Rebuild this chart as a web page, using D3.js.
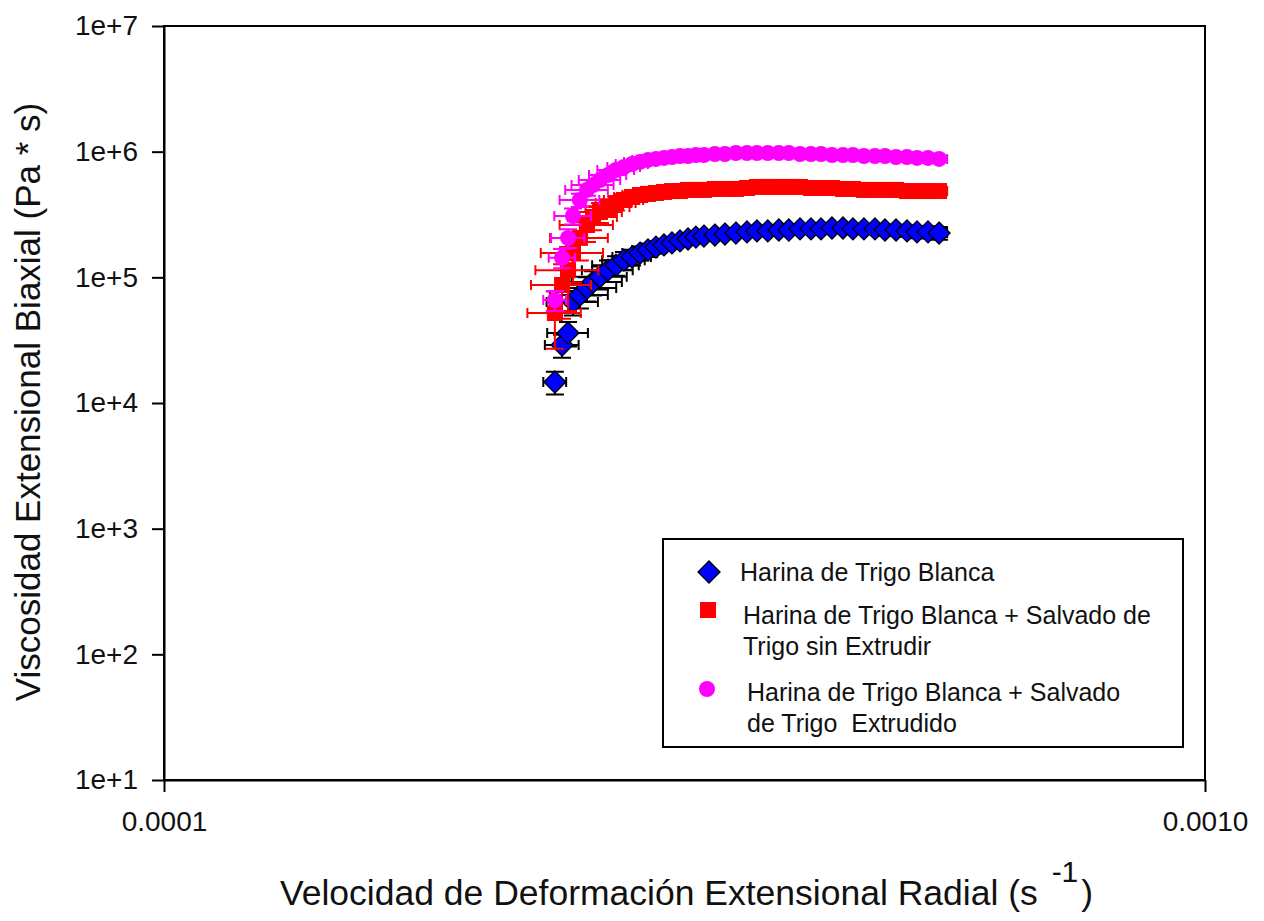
<!DOCTYPE html>
<html>
<head>
<meta charset="utf-8">
<script src="https://cdn.jsdelivr.net/npm/d3@7"></script>
<style>
body { margin: 0; background: #fff; }
svg { display: block; }
text { font-family: "Liberation Sans", Arial, sans-serif; fill: #111; white-space: pre; }
</style>
</head>
<body>
<svg id="graph" width="1264" height="921"></svg>
<script>
// strain rate (s^-1), shared by the three doughs
var strainRate = [2.374e-4, 2.412e-4, 2.444e-4, 2.471e-4, 2.509e-4, 2.549e-4, 2.583e-4, 2.623e-4, 2.670e-4, 2.718e-4,
    2.766e-4, 2.816e-4, 2.866e-4, 2.917e-4, 2.969e-4, 3.022e-4, 3.076e-4, 3.131e-4, 3.187e-4, 3.243e-4,
    3.301e-4, 3.382e-4, 3.458e-4, 3.543e-4, 3.631e-4, 3.712e-4, 3.802e-4, 3.896e-4, 3.983e-4, 4.083e-4,
    4.183e-4, 4.277e-4, 4.382e-4, 4.490e-4, 4.590e-4, 4.703e-4, 4.819e-4, 4.927e-4, 5.049e-4, 5.173e-4,
    5.289e-4, 5.419e-4, 5.553e-4];

// Harina de Trigo Blanca
var blancaVisc = [1.47e4, 2.89e4, 3.61e4, 6.37e4, 7.24e4, 8.23e4, 9.18e4, 1.01e5, 1.14e5, 1.25e5,
    1.37e5, 1.45e5, 1.56e5, 1.65e5, 1.74e5, 1.81e5, 1.88e5, 1.95e5, 2.02e5, 2.09e5,
    2.13e5, 2.17e5, 2.21e5, 2.25e5, 2.30e5, 2.34e5, 2.34e5, 2.38e5, 2.38e5, 2.43e5,
    2.43e5, 2.43e5, 2.47e5, 2.47e5, 2.43e5, 2.43e5, 2.43e5, 2.38e5, 2.38e5, 2.34e5,
    2.30e5, 2.30e5, 2.25e5];
var blancaErr = [0.3e4, 0.6e4, 0.8e4, 1.4e4, 1.6e4, 1.8e4, 2.0e4, 2.1e4, 2.2e4, 2.2e4,
    2.2e4, 2.1e4, 2.0e4, 2.0e4, 1.9e4, 1.9e4, 1.8e4, 1.8e4, 1.8e4, 1.8e4,
    1.8e4, 1.8e4, 1.8e4, 1.9e4, 1.9e4, 1.9e4, 2.0e4, 2.0e4, 2.0e4, 2.0e4,
    2.1e4, 2.1e4, 2.1e4, 2.2e4, 2.2e4, 2.2e4, 2.3e4, 2.3e4, 2.4e4, 2.4e4,
    2.5e4, 2.5e4, 2.6e4];
var blancaRateErr = [0.6e-5, 0.9e-5, 1.1e-5, 1.4e-5, 1.6e-5, 1.7e-5, 1.7e-5, 1.6e-5, 1.5e-5, 1.4e-5,
    1.3e-5, 1.2e-5, 1.1e-5, 1.0e-5, 1.0e-5, 1.0e-5, 1.0e-5, 1.0e-5, 1.0e-5, 1.0e-5,
    1.0e-5, 1.0e-5, 1.0e-5, 1.0e-5, 1.0e-5, 1.0e-5, 1.0e-5, 1.0e-5, 1.0e-5, 1.0e-5,
    1.0e-5, 1.0e-5, 1.0e-5, 1.0e-5, 1.0e-5, 1.0e-5, 1.0e-5, 1.0e-5, 1.0e-5, 1.0e-5,
    1.0e-5, 1.0e-5, 1.0e-5];

// + Salvado de Trigo sin Extrudir
var sinExtVisc = [5.20e4, 8.69e4, 1.14e5, 1.56e5, 2.06e5, 2.61e5, 3.02e5, 3.31e5, 3.63e5, 3.90e5,
    4.13e5, 4.36e5, 4.52e5, 4.61e5, 4.69e5, 4.78e5, 4.86e5, 4.86e5, 4.96e5, 4.96e5,
    4.96e5, 5.05e5, 5.05e5, 5.05e5, 5.14e5, 5.24e5, 5.24e5, 5.24e5, 5.24e5, 5.24e5,
    5.14e5, 5.14e5, 5.14e5, 5.05e5, 5.05e5, 4.96e5, 4.96e5, 4.96e5, 4.96e5, 4.86e5,
    4.86e5, 4.86e5, 4.86e5];
var sinExtErr = [2.5e4, 4.0e4, 6.0e4, 6.5e4, 7.0e4, 7.0e4, 6.5e4, 6.0e4, 5.5e4, 5.0e4,
    4.5e4, 4.0e4, 4.0e4, 3.5e4, 3.5e4, 3.5e4, 3.5e4, 3.5e4, 3.5e4, 3.5e4,
    4.0e4, 4.0e4, 4.0e4, 4.0e4, 4.5e4, 4.5e4, 4.5e4, 4.0e4, 4.0e4, 4.0e4,
    4.0e4, 3.5e4, 3.5e4, 3.5e4, 3.5e4, 3.5e4, 3.5e4, 3.5e4, 3.5e4, 3.5e4,
    3.5e4, 3.5e4, 3.5e4];
var sinExtRateErr = [1.4e-5, 1.6e-5, 1.7e-5, 1.7e-5, 1.6e-5, 1.5e-5, 1.4e-5, 1.3e-5, 1.3e-5, 1.2e-5,
    1.2e-5, 1.1e-5, 1.1e-5, 1.0e-5, 1.0e-5, 1.0e-5, 1.0e-5, 1.0e-5, 1.0e-5, 1.0e-5,
    1.0e-5, 1.0e-5, 1.0e-5, 1.0e-5, 1.0e-5, 1.0e-5, 1.0e-5, 1.0e-5, 1.0e-5, 1.0e-5,
    1.0e-5, 1.0e-5, 1.0e-5, 1.0e-5, 1.0e-5, 1.0e-5, 1.0e-5, 1.0e-5, 1.0e-5, 1.0e-5,
    1.0e-5, 1.0e-5, 1.0e-5];

// + Salvado de Trigo Extrudido
var extVisc = [6.60e4, 1.43e5, 2.06e5, 3.08e5, 4.13e5, 4.96e5, 5.43e5, 5.95e5, 6.52e5, 7.15e5,
    7.55e5, 7.98e5, 8.28e5, 8.59e5, 8.75e5, 8.91e5, 9.07e5, 9.24e5, 9.24e5, 9.41e5,
    9.41e5, 9.58e5, 9.58e5, 9.76e5, 9.76e5, 9.76e5, 9.76e5, 9.76e5, 9.76e5, 9.58e5,
    9.58e5, 9.58e5, 9.41e5, 9.41e5, 9.41e5, 9.24e5, 9.24e5, 9.24e5, 9.07e5, 9.07e5,
    8.91e5, 8.91e5, 8.75e5];
var extErr = [1.2e4, 2.5e4, 3.5e4, 4.5e4, 5.0e4, 5.0e4, 5.0e4, 5.0e4, 5.0e4, 5.0e4,
    5.0e4, 5.0e4, 5.0e4, 5.0e4, 5.0e4, 5.0e4, 5.0e4, 5.0e4, 5.0e4, 5.0e4,
    5.0e4, 5.0e4, 5.0e4, 5.0e4, 5.0e4, 5.0e4, 5.0e4, 5.0e4, 5.0e4, 5.0e4,
    5.0e4, 5.0e4, 5.0e4, 5.0e4, 5.0e4, 5.0e4, 5.0e4, 5.0e4, 5.0e4, 5.0e4,
    5.0e4, 5.0e4, 5.0e4];
var extRateErr = [0.6e-5, 0.7e-5, 0.9e-5, 1.0e-5, 1.1e-5, 1.2e-5, 1.2e-5, 1.2e-5, 1.1e-5, 1.1e-5,
    1.0e-5, 1.0e-5, 1.0e-5, 1.0e-5, 1.0e-5, 1.0e-5, 1.0e-5, 1.0e-5, 1.0e-5, 1.0e-5,
    1.0e-5, 1.0e-5, 1.0e-5, 1.0e-5, 1.0e-5, 1.0e-5, 1.0e-5, 1.0e-5, 1.0e-5, 1.0e-5,
    1.0e-5, 1.0e-5, 1.0e-5, 1.0e-5, 1.0e-5, 1.0e-5, 1.0e-5, 1.0e-5, 1.0e-5, 1.0e-5,
    1.0e-5, 1.0e-5, 1.0e-5];

var yTicks = [1e1, 1e2, 1e3, 1e4, 1e5, 1e6, 1e7];
var yTickLabels = ["1e+1", "1e+2", "1e+3", "1e+4", "1e+5", "1e+6", "1e+7"];
var xTicks = [1e-4, 1e-3];
var xTickLabels = ["0.0001", "0.0010"];

var legendLabels = [
    ["Harina de Trigo Blanca"],
    ["Harina de Trigo Blanca + Salvado de", "Trigo sin Extrudir"],
    ["Harina de Trigo Blanca + Salvado", "de Trigo  Extrudido"]
];

var svg = d3.select("#graph");
var plotL = 164, plotR = 1205, plotT = 26, plotB = 780;

var x = d3.scaleLog().domain([1e-4, 1e-3]).range([plotL, plotR]);
var y = d3.scaleLog().domain([1e1, 1e7]).range([plotB, plotT]);

function pack(visc, err, rateErr) {
    return strainRate.map(function(r, i) {
        return {x: r, y: visc[i], ey: err[i], ex: rateErr[i]};
    });
}

var series = [
    {data: pack(blancaVisc, blancaErr, blancaRateErr), fill: "#0000ff", bar: "#000", shape: "diamond"},
    {data: pack(sinExtVisc, sinExtErr, sinExtRateErr), fill: "#ff0000", bar: "#ff0000", shape: "square"},
    {data: pack(extVisc, extErr, extRateErr), fill: "#ff00ff", bar: "#ff00ff", shape: "circle"}
];

function marker(sel, shape, fill) {
    if (shape == "diamond") {
        sel.append("path").attr("d", "M0,-11L11,0L0,11L-11,0Z")
            .attr("fill", fill).attr("stroke", "#000").attr("stroke-width", 1.3);
    } else if (shape == "square") {
        sel.append("rect").attr("x", -8).attr("y", -8).attr("width", 16).attr("height", 16)
            .attr("fill", fill);
    } else {
        sel.append("circle").attr("r", 8).attr("fill", fill);
    }
}

// frame
svg.append("rect").attr("x", plotL).attr("y", plotT)
    .attr("width", plotR - plotL).attr("height", plotB - plotT)
    .attr("fill", "none").attr("stroke", "#000").attr("stroke-width", 2);

series.forEach(function(s) {
    var g = svg.append("g");
    var bars = g.selectAll("g.err").data(s.data).enter().append("g")
        .attr("stroke", s.bar).attr("stroke-width", 2).attr("fill", "none");
    // horizontal error bars
    bars.append("path").attr("d", function(d) {
        var x0 = x(d.x - d.ex), x1 = x(d.x + d.ex), yy = y(d.y);
        return "M" + x0 + "," + yy + "H" + x1 +
            "M" + x0 + "," + (yy - 5) + "V" + (yy + 5) +
            "M" + x1 + "," + (yy - 5) + "V" + (yy + 5);
    });
    // vertical error bars
    bars.append("path").attr("d", function(d) {
        var y0 = y(d.y - d.ey), y1 = y(d.y + d.ey), xx = x(d.x);
        return "M" + xx + "," + y0 + "V" + y1 +
            "M" + (xx - 9) + "," + y0 + "H" + (xx + 9) +
            "M" + (xx - 9) + "," + y1 + "H" + (xx + 9);
    });
    g.selectAll("g.pt").data(s.data).enter().append("g")
        .attr("transform", function(d) { return "translate(" + x(d.x) + "," + y(d.y) + ")"; })
        .each(function() { marker(d3.select(this), s.shape, s.fill); });
});

// axes
var yAxis = svg.append("g").attr("transform", "translate(" + plotL + ",0)")
    .call(d3.axisLeft(y).tickValues(yTicks).tickSize(12).tickSizeOuter(0).tickPadding(14)
        .tickFormat(function(d, i) { return yTickLabels[i]; }));
var xAxis = svg.append("g").attr("transform", "translate(0," + plotB + ")")
    .call(d3.axisBottom(x).tickValues(xTicks).tickSize(12).tickSizeOuter(0).tickPadding(19)
        .tickFormat(function(d, i) { return xTickLabels[i]; }));
[yAxis, xAxis].forEach(function(a) {
    a.select(".domain").attr("stroke", "#000").attr("stroke-width", 2);
    a.selectAll(".tick line").attr("stroke", "#000").attr("stroke-width", 2);
    a.selectAll(".tick text").attr("fill", "#111").style("font-size", "28px")
        .style("font-family", "'Liberation Sans', Arial, sans-serif");
});

// axis titles
svg.append("text")
    .attr("transform", "translate(40,402) rotate(-90)")
    .attr("text-anchor", "middle").style("font-size", "35px")
    .text("Viscosidad Extensional Biaxial (Pa * s)");

var xt = svg.append("text").attr("x", 280).attr("y", 905).style("font-size", "35.5px");
xt.append("tspan").text("Velocidad de Deformación Extensional Radial (s ");
xt.append("tspan").attr("dx", 4).attr("dy", -23).style("font-size", "30px").text("-1");
xt.append("tspan").attr("dx", 3).attr("dy", 23).text(")");

// legend
var lg = svg.append("g");
lg.append("rect").attr("x", 663).attr("y", 539).attr("width", 520).attr("height", 208)
    .attr("fill", "#fff").attr("stroke", "#000").attr("stroke-width", 2);
var legendRows = [
    {mx: 709, my: 572, tx: 740, ty: 572},
    {mx: 708, my: 610, tx: 743, ty: 615},
    {mx: 707, my: 689, tx: 747, ty: 692}
];
legendRows.forEach(function(r, i) {
    marker(lg.append("g").attr("transform", "translate(" + r.mx + "," + r.my + ")"),
        series[i].shape, series[i].fill);
    var t = lg.append("text").attr("x", r.tx).attr("y", r.ty).style("font-size", "25px");
    legendLabels[i].forEach(function(line, j) {
        t.append("tspan").attr("x", r.tx).attr("dy", j == 0 ? "0.35em" : 31).text(line);
    });
});
</script>
</body>
</html>
